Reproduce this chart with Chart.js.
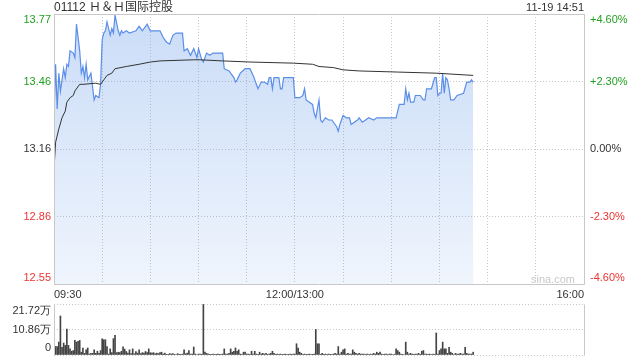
<!DOCTYPE html>
<html>
<head>
<meta charset="utf-8">
<script src="https://cdn.jsdelivr.net/npm/chart.js@4.4.1/dist/chart.umd.min.js"></script>
<style>
  body { margin: 0; background: #fff; }
  #wrap { position: relative; width: 640px; height: 360px; overflow: hidden; font-family: "Liberation Sans", "Noto Sans CJK SC", sans-serif; }
  .txt { position: absolute; color: #333; white-space: nowrap; }
  #title { left: 54px; top: 0; font-size: 12px; line-height: 14px; }
  #time { right: 56px; top: 0; font-size: 11px; line-height: 14px; }
  #mark { left: 531px; top: 272px; font-size: 11px; line-height: 14px; color: #c8c8c8; }
  #price { position: absolute; left: 0; top: 0; }
  #vol { position: absolute; left: 0; top: 300px; }
</style>
</head>
<body>
<div id="wrap">
  <canvas id="price" width="640" height="300"></canvas>
  <canvas id="vol" width="640" height="60"></canvas>
  <div class="txt" id="title"></div>
  <div class="txt" id="time"></div>
  <div class="txt" id="mark">sina.com</div>
</div>
<script>
const STOCK_NAME = '01112 Ｈ＆Ｈ国际控股';
const UPDATE_TIME = '11-19 14:51';
const PREV_CLOSE = 13.16;
const SESSION_MINUTES = 330; // 09:30-12:00 + 13:00-16:00

const timeTickMinutes = [0, 150, 330];
const timeTickLabels = ['09:30', '12:00/13:00', '16:00'];
const pctSteps = [0.046, 0.023, 0, -0.023, -0.046];
const priceTickLabels = ['13.77', '13.46', '13.16', '12.86', '12.55'];
const pctTickLabels = ['+4.60%', '+2.30%', '0.00%', '-2.30%', '-4.60%'];

// minutes since 09:30 (lunch removed) and last price
const priceMinutes = [
  0, 1, 2, 3, 4, 6, 7, 8, 9, 10, 12, 13, 14, 16, 17, 18, 19, 20, 21, 23,
  24, 25, 26, 28, 29, 30, 31, 32, 33, 35, 36, 37, 38, 40, 41, 42, 43, 45, 47, 51,
  53, 55, 58, 60, 66, 68, 70, 72, 74, 76, 80, 81, 83, 85, 87, 89, 90, 92, 93, 95,
  97, 99, 105, 106, 109, 112, 113, 114, 116, 119, 122, 124, 126, 127, 129, 131, 133, 134, 135, 136,
  137, 140, 141, 142, 143, 149, 150, 153, 155, 156, 157, 159, 161, 162, 163, 165, 166, 167, 169, 171,
  173, 174, 176, 177, 178, 180, 182, 184, 185, 187, 189, 190, 192, 194, 196, 199, 201, 203, 213, 215,
  218, 219, 220, 221, 222, 224, 225, 227, 228, 230, 231, 232, 234, 235, 237, 238, 239, 240, 241, 242,
  243, 244, 245, 246, 247, 249, 251, 255, 257, 259, 260, 261
];
const priceValues = [
  13.30, 13.54, 13.34, 13.50, 13.42, 13.52, 13.48, 13.54, 13.53, 13.60, 13.59, 13.57, 13.72, 13.60, 13.50, 13.53, 13.48, 13.54, 13.47, 13.50,
  13.44, 13.38, 13.40, 13.39, 13.45, 13.65, 13.68, 13.69, 13.73, 13.67, 13.70, 13.68, 13.76, 13.69, 13.67, 13.69, 13.68, 13.69, 13.68, 13.69,
  13.71, 13.69, 13.72, 13.69, 13.69, 13.66, 13.64, 13.63, 13.67, 13.68, 13.68, 13.60, 13.61, 13.58, 13.61, 13.57, 13.61, 13.56, 13.55, 13.59,
  13.58, 13.59, 13.59, 13.52, 13.51, 13.48, 13.46, 13.47, 13.50, 13.52, 13.52, 13.49, 13.45, 13.43, 13.46, 13.46, 13.45, 13.48, 13.48, 13.43,
  13.48, 13.48, 13.43, 13.43, 13.48, 13.48, 13.39, 13.39, 13.40, 13.43, 13.38, 13.37, 13.36, 13.32, 13.30, 13.38, 13.29, 13.28, 13.30, 13.29,
  13.29, 13.28, 13.26, 13.24, 13.27, 13.31, 13.30, 13.30, 13.27, 13.28, 13.29, 13.30, 13.28, 13.29, 13.30, 13.29, 13.30, 13.30, 13.30, 13.36,
  13.36, 13.43, 13.38, 13.41, 13.37, 13.37, 13.40, 13.40, 13.40, 13.38, 13.38, 13.43, 13.43, 13.43, 13.48, 13.48, 13.40, 13.41, 13.41, 13.50,
  13.41, 13.48, 13.47, 13.43, 13.38, 13.38, 13.40, 13.41, 13.46, 13.46, 13.47, 13.46
];

// average price line
const avgMinutes = [0, 1, 3, 5, 7, 8, 10, 12, 13, 16, 18, 26, 29, 31, 33, 36, 38, 45, 53, 60, 66, 87, 91, 105, 122, 149, 161, 165, 174, 180, 190, 214, 238, 261];
const avgValues = [13.07, 13.19, 13.25, 13.30, 13.33, 13.37, 13.39, 13.40, 13.42, 13.45, 13.45, 13.455, 13.45, 13.47, 13.49, 13.50, 13.52, 13.53, 13.54, 13.55, 13.555, 13.56, 13.56, 13.555, 13.55, 13.545, 13.54, 13.53, 13.525, 13.515, 13.51, 13.505, 13.50, 13.49];

// volume per minute, in 万 shares
const volumes = [
  12.3, 3.6, 3.6, 5.5, 16.6, 3.3, 5.1, 4.1, 11.0, 4.1,
  2.6, 1.6, 1.9, 6.2, 5.5, 5.8, 6.2, 1.2, 3.0, 0.7,
  2.2, 3.0, 0.4, 0.7, 0.7, 2.2, 0.7, 1.6, 0.7, 1.9,
  6.9, 6.5, 6.5, 3.6, 0.4, 2.6, 1.0, 7.0, 8.4, 1.0,
  1.2, 1.0, 1.6, 3.5, 2.5, 1.5, 0.8, 2.2, 0.6, 2.6,
  0.5, 1.5, 0.8, 2.2, 0.6, 1.0, 0.8, 1.5, 1.0, 2.6,
  1.0, 0.8, 1.0, 0.5, 0.8, 0.6, 1.0, 1.2, 0.4, 0.8,
  0.3, 0.3, 0.6, 0.4, 0.6, 0.3, 0.2, 0.6, 0.3, 0.3,
  0.4, 2.2, 0.5, 0.8, 1.9, 0.4, 0.4, 3.4, 0.4, 0.2,
  0.4, 0.4, 0.3, 21.5, 1.2, 0.7, 0.4, 0.3, 0.3, 0.4,
  0.3, 0.3, 0.4, 0.3, 0.3, 0.4, 2.6, 0.4, 0.4, 0.7,
  2.6, 1.2, 1.6, 3.0, 1.6, 2.2, 0.4, 0.3, 1.2, 1.2,
  0.4, 0.4, 0.3, 1.6, 0.4, 1.6, 0.4, 0.3, 1.2, 0.4,
  0.7, 0.4, 0.7, 0.3, 0.4, 0.7, 1.6, 0.7, 0.3, 0.4,
  0.3, 0.4, 0.3, 0.3, 0.4, 0.3, 0.3, 0.4, 0.3, 0.4,
  0.4, 4.8, 2.9, 1.2, 0.7, 0.3, 0.4, 0.3, 0.3, 0.4,
  0.3, 0.3, 0.4, 10.9, 4.8, 4.8, 0.3, 0.7, 0.3, 0.4,
  0.3, 0.4, 0.3, 0.3, 0.4, 0.7, 0.4, 3.6, 0.4, 1.2,
  2.2, 2.6, 0.4, 0.7, 0.4, 0.4, 2.2, 1.2, 0.7, 0.4,
  0.7, 0.4, 0.4, 0.4, 0.3, 0.4, 0.2, 0.4, 0.3, 0.7,
  0.4, 1.2, 0.7, 1.2, 0.4, 0.2, 0.4, 0.4, 0.3, 0.4,
  0.4, 0.2, 0.3, 2.6, 1.9, 1.2, 0.4, 0.3, 0.2, 5.5,
  1.2, 0.4, 0.7, 0.4, 0.3, 0.4, 0.4, 0.7, 0.3, 1.6,
  1.9, 0.4, 0.4, 0.3, 0.4, 0.2, 0.4, 0.3, 9.4, 0.4,
  1.9, 2.6, 5.5, 2.6, 2.6, 0.7, 3.3, 1.2, 0.7, 0.2,
  0.7, 0.4, 0.4, 0.7, 0.4, 0.4, 3.3, 0.7, 0.4, 0.4,
  0.4, 1.2
];
const volTicks = [21.72, 10.86, 0];
const volTickLabels = ['21.72万', '10.86万', '0'];

const UP = '#22a022', DOWN = '#ee3333', FLAT = '#333';
const FONT = '11px "Liberation Sans", Arial, sans-serif';
const gridMinutes = [];
for (let m = 0; m <= SESSION_MINUTES; m += 30) gridMinutes.push(m);

document.getElementById('title').textContent = STOCK_NAME;
document.getElementById('time').textContent = UPDATE_TIME;

// axis labels at the side of the plot, first/last kept inside the frame
const sideLabels = {
  id: 'sideLabels',
  afterDraw(chart, args, opts) {
    const c = chart.ctx, y = chart.scales.y;
    c.save();
    c.font = FONT;
    c.textBaseline = 'middle';
    opts.sides.forEach(side => {
      c.textAlign = side.align;
      const last = side.labels.length - 1;
      side.labels.forEach((text, i) => {
        let py = y.getPixelForValue(side.values[i]);
        if (i === 0) py += opts.inset;
        if (i === last) py -= opts.inset;
        c.fillStyle = side.colors[i];
        c.fillText(text, side.x, py);
      });
    });
    c.restore();
  }
};

const frame = {
  id: 'frame',
  afterDraw(chart, args, opts) {
    const c = chart.ctx;
    const { left, top, right, bottom } = chart.chartArea;
    const l = Math.round(left) + 0.5, r = Math.round(right) + 0.5;
    const t = Math.round(top) + 0.5, b = Math.round(bottom) + 0.5;
    c.save();
    c.strokeStyle = '#c8c8c8';
    c.lineWidth = 1;
    c.beginPath();
    if (opts.full) {
      c.rect(l, t, r - l, b - t);
    } else {
      c.moveTo(l, t); c.lineTo(l, b);
      c.moveTo(r, t); c.lineTo(r, b);
    }
    c.stroke();
    c.restore();
  }
};

const priceColor = v => v > PREV_CLOSE + 0.001 ? UP : (v < PREV_CLOSE - 0.001 ? DOWN : FLAT);
const priceTickValues = pctSteps.map(p => PREV_CLOSE * (1 + p));

new Chart(document.getElementById('price'), {
  type: 'line',
  data: {
    datasets: [
      {
        label: 'avg',
        data: avgMinutes.map((m, i) => ({ x: m, y: avgValues[i] })),
        borderColor: '#333',
        borderWidth: 1,
        pointRadius: 0,
        fill: false,
        order: 0
      },
      {
        label: 'price',
        data: priceMinutes.map((m, i) => ({ x: m, y: priceValues[i] })),
        borderColor: '#5a8ee8',
        borderWidth: 1.2,
        pointRadius: 0,
        fill: 'start',
        backgroundColor(ctx) {
          const area = ctx.chart.chartArea;
          if (!area) return 'rgba(80,140,230,0.2)';
          const g = ctx.chart.ctx.createLinearGradient(0, area.top, 0, area.bottom);
          g.addColorStop(0, 'rgba(80,140,230,0.30)');
          g.addColorStop(1, 'rgba(80,140,230,0.09)');
          return g;
        },
        order: 1
      }
    ]
  },
  options: {
    responsive: false,
    animation: false,
    layout: { padding: { top: 14, right: 56, left: 0, bottom: 0 } },
    plugins: {
      legend: { display: false },
      tooltip: { enabled: false },
      sideLabels: {
        inset: 6,
        sides: [
          { x: 51, align: 'right', labels: priceTickLabels, values: priceTickValues, colors: priceTickValues.map(priceColor) },
          { x: 590, align: 'left', labels: pctTickLabels, values: priceTickValues, colors: priceTickValues.map(priceColor) }
        ]
      },
      frame: { full: true }
    },
    scales: {
      x: {
        type: 'linear',
        min: 0,
        max: SESSION_MINUTES,
        afterBuildTicks(scale) { scale.ticks = gridMinutes.map(v => ({ value: v })); },
        afterFit(scale) { scale.height = 16; },
        ticks: {
          autoSkip: false,
          maxRotation: 0,
          align: 'inner',
          padding: 4,
          color: '#333',
          font: { size: 11, family: '"Liberation Sans", Arial, sans-serif' },
          callback(value) {
            const i = timeTickMinutes.indexOf(value);
            return i >= 0 ? timeTickLabels[i] : '';
          }
        },
        grid: { color: '#c8c8c8', drawTicks: false },
        border: { display: false, dash: [1, 2] }
      },
      y: {
        min: PREV_CLOSE * (1 + pctSteps[4]),
        max: PREV_CLOSE * (1 + pctSteps[0]),
        afterBuildTicks(scale) { scale.ticks = priceTickValues.map(v => ({ value: v })); },
        afterFit(scale) { scale.width = 54; },
        ticks: { display: false },
        grid: { color: '#c8c8c8', drawTicks: false },
        border: { display: false, dash: [1, 2] }
      }
    }
  },
  plugins: [sideLabels, frame]
});

new Chart(document.getElementById('vol'), {
  type: 'bar',
  data: {
    datasets: [{
      label: 'volume',
      data: volumes.map((v, i) => ({ x: i, y: v })),
      backgroundColor: '#444',
      barThickness: 1
    }]
  },
  options: {
    responsive: false,
    animation: false,
    layout: { padding: { top: 4, right: 56, left: 0, bottom: 5 } },
    plugins: {
      legend: { display: false },
      tooltip: { enabled: false },
      sideLabels: {
        inset: 7,
        sides: [
          { x: 51, align: 'right', labels: volTickLabels, values: volTicks, colors: volTicks.map(() => '#333') }
        ]
      },
      frame: { full: false }
    },
    scales: {
      x: { type: 'linear', min: 0, max: SESSION_MINUTES, offset: false, display: false },
      y: {
        min: 0,
        max: volTicks[0],
        afterBuildTicks(scale) { scale.ticks = volTicks.map(v => ({ value: v })); },
        afterFit(scale) { scale.width = 54; },
        ticks: { display: false },
        grid: { color: '#c8c8c8', drawTicks: false },
        border: { display: false, dash: [1, 2] }
      }
    }
  },
  plugins: [sideLabels, frame]
});
</script>
</body>
</html>
